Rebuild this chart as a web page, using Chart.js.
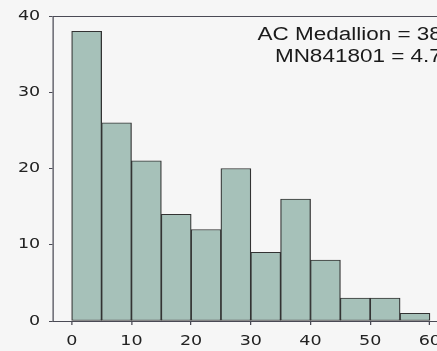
<!DOCTYPE html>
<html>
<head>
<meta charset="utf-8">
<script src="https://cdn.jsdelivr.net/npm/chart.js@4"></script>
<style>
  html, body { margin: 0; padding: 0; background: #f6f6f6; }
  #c { display: block; }
</style>
</head>
<body>
<canvas id="c" width="380" height="351"></canvas>
<script>
// histogram bins (left edge of each 5-wide bin) and counts
const binStarts = [0, 5, 10, 15, 20, 25, 30, 35, 40, 45, 50, 55];
const binWidth = 5;
const counts = [38, 26, 21, 14, 12, 20, 9, 16, 8, 3, 3, 1];
const xTicks = [0, 10, 20, 30, 40, 50, 60];
const yTicks = [0, 10, 20, 30, 40];
const annotationLines = ['AC Medallion = 38', 'MN841801 = 4.7'];

const STRETCH_X = 1.25;      // the figure is laid out narrow and drawn widened
const OUT_W = 437, OUT_H = 351;
const axisColor = '#4a4a55';
const tickFont = { family: '"DejaVu Sans"', size: 14 };
const noteFont = '18px "Liberation Sans"';

const points = binStarts.map((s, i) => ({ x: s + binWidth / 2, y: counts[i] }));

const stretchPlugin = {
  id: 'stretch',
  beforeDraw(chart) {
    chart.ctx.setTransform(STRETCH_X, 0, 0, 1, 0, 0);
  }
};

const framePlugin = {
  id: 'frameAndNote',
  afterDraw(chart) {
    const { ctx, chartArea } = chart;
    ctx.save();
    // top edge of the plot frame
    ctx.strokeStyle = axisColor;
    ctx.lineWidth = 1;
    ctx.beginPath();
    ctx.moveTo(chartArea.left, Math.round(chartArea.top) + 0.5);
    ctx.lineTo(chartArea.right, Math.round(chartArea.top) + 0.5);
    ctx.stroke();
    // note in the upper right corner
    ctx.fillStyle = '#1a1a1a';
    ctx.font = noteFont;
    ctx.textAlign = 'right';
    ctx.textBaseline = 'alphabetic';
    const xr = chartArea.right - 9.5;
    annotationLines.forEach((t, i) => ctx.fillText(t, xr, chartArea.top + 24.3 + i * 21.4));
    ctx.restore();
  }
};

const canvas = document.getElementById('c');
const chart = new Chart(canvas, {
  type: 'bar',
  data: {
    datasets: [{
      data: points,
      backgroundColor: '#a6c1b9',
      borderColor: '#333333',
      borderWidth: 1,
      borderSkipped: false,
      barPercentage: 1,
      categoryPercentage: 1
    }]
  },
  options: {
    responsive: false,
    devicePixelRatio: 1,
    animation: false,
    layout: { padding: { top: 16, right: 17, bottom: 0, left: 0 } },
    plugins: { legend: { display: false }, tooltip: { enabled: false } },
    events: [],
    scales: {
      x: {
        type: 'linear',
        offset: false,
        min: -3.14,
        max: 64,
        afterBuildTicks: s => { s.ticks = xTicks.map(v => ({ value: v })); },
        afterFit: s => { s.height = 30; s.paddingLeft = 0; s.paddingRight = 0; },
        grid: { offset: false, drawOnChartArea: false, drawTicks: true, tickLength: 4, color: axisColor },
        border: { display: true, color: axisColor, width: 1 },
        ticks: { font: tickFont, color: '#222', padding: 8, maxRotation: 0 }
      },
      y: {
        min: 0,
        max: 40,
        afterBuildTicks: s => { s.ticks = yTicks.map(v => ({ value: v })); },
        afterFit: s => { s.width = 42.4; },
        grid: { drawOnChartArea: false, drawTicks: true, tickLength: 3.2, color: axisColor },
        border: { display: true, color: axisColor, width: 1 },
        ticks: { font: tickFont, color: '#222', padding: 7 }
      }
    }
  },
  plugins: [stretchPlugin, framePlugin]
});

// widen the backing store to the output size and redraw through the stretch
function redraw() {
  canvas.width = OUT_W;
  canvas.height = OUT_H;
  canvas.style.width = OUT_W + 'px';
  canvas.style.height = OUT_H + 'px';
  chart.draw();
}
redraw();
if (document.fonts && document.fonts.load) {
  Promise.all([
    document.fonts.load('14px "DejaVu Sans"'),
    document.fonts.load(noteFont)
  ]).then(redraw);
}
</script>
</body>
</html>
